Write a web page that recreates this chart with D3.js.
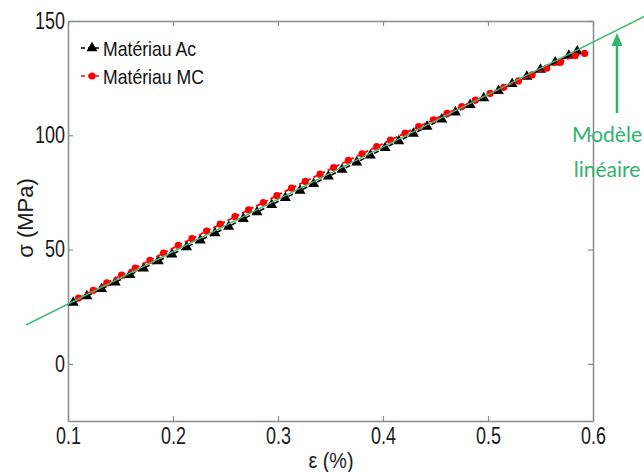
<!DOCTYPE html>
<html>
<head>
<meta charset="utf-8">
<script src="https://cdn.jsdelivr.net/npm/d3@7"></script>
<style>
  html, body { margin: 0; padding: 0; background: #fff; }
  svg { display: block; }
  .narrow { font-family: "Liberation Sans Narrow", "Arial Narrow", "Liberation Sans", Arial, sans-serif; }
</style>
</head>
<body>
<svg id="chart" width="644" height="472"></svg>
<script>
// ---- data ----
const xTicks = [0.1, 0.2, 0.3, 0.4, 0.5, 0.6];
const yTicks = [0, 50, 100, 150];
const seriesNames = ["Matériau Ac", "Matériau MC"];

const acStrain = [0.105, 0.118, 0.132, 0.145, 0.159, 0.172, 0.186, 0.199, 0.213, 0.226,
  0.240, 0.253, 0.267, 0.280, 0.294, 0.307, 0.321, 0.334, 0.348, 0.361,
  0.375, 0.388, 0.402, 0.415, 0.429, 0.442, 0.456, 0.469, 0.483, 0.496,
  0.510, 0.523, 0.537, 0.550, 0.564, 0.577, 0.585];
const acStress = [26.8, 29.6, 32.8, 35.7, 38.9, 41.8, 45.0, 47.9, 51.1, 54.0,
  57.2, 60.1, 63.4, 66.4, 69.6, 72.6, 75.8, 78.8, 82.0, 85.0,
  88.2, 91.2, 94.5, 97.5, 100.7, 103.8, 107.0, 110.0, 113.3, 116.3,
  119.5, 122.5, 125.7, 128.7, 131.9, 134.9, 136.7];

const mcStrain = [0.110, 0.124, 0.137, 0.151, 0.164, 0.178, 0.191, 0.205, 0.218, 0.232,
  0.245, 0.259, 0.272, 0.286, 0.299, 0.313, 0.326, 0.340, 0.353, 0.367,
  0.380, 0.394, 0.407, 0.421, 0.434, 0.448, 0.461, 0.475, 0.488, 0.502,
  0.515, 0.529, 0.542, 0.556, 0.569, 0.583, 0.592];
const mcStress = [28.8, 32.2, 35.4, 38.8, 41.9, 45.3, 48.5, 51.8, 54.8, 58.1,
  61.1, 64.4, 67.4, 70.6, 73.6, 76.9, 79.8, 83.0, 85.9, 89.0,
  91.9, 95.0, 97.9, 101.0, 103.8, 106.8, 109.6, 112.6, 115.4, 118.3,
  121.0, 123.8, 126.4, 129.4, 132.0, 134.8, 135.8];

// linear model (annotation line), endpoints
const modelStrain = [0.06, 0.649];
const modelStress = [17.0, 152.0];

// ---- layout ----
const svg = d3.select("#chart");
const L = 68, R = 593, T = 21, B = 421;
const x = d3.scaleLinear().domain([0.1, 0.6]).range([L, R]);
const y = d3.scaleLinear().domain([-25, 150]).range([B, T]);

const axisColor = "#8c8c8c";
const green = "#3dba78";
const greenText = "#2fb36f";

function styleAxis(g, showLabels) {
  g.select(".domain").attr("stroke", axisColor).attr("stroke-width", 1.5);
  g.selectAll(".tick line").attr("stroke", axisColor).attr("stroke-width", 1.2);
  g.selectAll(".tick text").attr("fill", "#1a1a1a")
    .attr("class", "narrow").attr("data-squeeze", 0.78).style("font-size", "23px")
    .style("display", showLabels ? null : "none");
}

svg.append("g").attr("transform", `translate(0,${B})`)
  .call(d3.axisBottom(x).tickValues(xTicks).tickFormat(d3.format(".1f")).tickSizeInner(-5).tickSizeOuter(0).tickPadding(7))
  .call(g => styleAxis(g, true));
svg.append("g").attr("transform", `translate(0,${T})`)
  .call(d3.axisTop(x).tickValues(xTicks).tickSizeInner(-5).tickSizeOuter(0))
  .call(g => styleAxis(g, false));
svg.append("g").attr("transform", `translate(${L},0)`)
  .call(d3.axisLeft(y).tickValues(yTicks).tickSizeInner(-5).tickSizeOuter(0).tickPadding(3))
  .call(g => styleAxis(g, true));
svg.append("g").attr("transform", `translate(${R},0)`)
  .call(d3.axisRight(y).tickValues(yTicks).tickSizeInner(-5).tickSizeOuter(0))
  .call(g => styleAxis(g, false));

// axis titles
svg.append("text").attr("class", "narrow").attr("data-squeeze", 0.9)
  .attr("x", 331).attr("y", 468)
  .attr("text-anchor", "middle").style("font-size", "22px").attr("fill", "#1a1a1a")
  .text("ε (%)");
svg.append("text")
  .attr("transform", `translate(33,218) rotate(-90)`)
  .attr("text-anchor", "middle")
  .style("font-family", "'Liberation Sans', Arial, sans-serif").style("font-size", "22px").attr("fill", "#1a1a1a")
  .text("σ (MPa)");

// ---- series ----
const acData = acStrain.map((s, i) => ({ x: s, y: acStress[i] }));
const mcData = mcStrain.map((s, i) => ({ x: s, y: mcStress[i] }));
const line = d3.line().x(d => x(d.x)).y(d => y(d.y));
const tri = d3.symbol().type(d3.symbolTriangle).size(52);

svg.append("path").datum(acData).attr("d", line)
  .attr("fill", "none").attr("stroke", "#000").attr("stroke-width", 1.6).attr("stroke-dasharray", "5,3");
svg.append("g").selectAll("path").data(acData).join("path")
  .attr("d", tri).attr("transform", d => `translate(${x(d.x)},${y(d.y)})`).attr("fill", "#000");

svg.append("path").datum(mcData).attr("d", line)
  .attr("fill", "none").attr("stroke", "#ff0000").attr("stroke-width", 1.8).attr("stroke-dasharray", "5,3");
svg.append("g").selectAll("circle").data(mcData).join("circle")
  .attr("cx", d => x(d.x)).attr("cy", d => y(d.y)).attr("r", 3.6).attr("fill", "#ff0000");

// linear model line
const modelData = modelStrain.map((s, i) => ({ x: s, y: modelStress[i] }));
svg.append("path").datum(modelData).attr("d", line)
  .attr("fill", "none").attr("stroke", green).attr("stroke-width", 1.5);

// ---- legend ----
const legendRows = [
  { name: seriesNames[0], color: "#000", marker: "tri", cy: 48 },
  { name: seriesNames[1], color: "#ff0000", marker: "circle", cy: 76 }
];
legendRows.forEach(r => {
  svg.append("line").attr("x1", 81).attr("x2", 102).attr("y1", r.cy).attr("y2", r.cy)
    .attr("stroke", r.color).attr("stroke-width", 1.6).attr("stroke-dasharray", "4,3");
  if (r.marker === "tri") {
    svg.append("path").attr("d", tri).attr("transform", `translate(92,${r.cy})`).attr("fill", r.color);
  } else {
    svg.append("circle").attr("cx", 92).attr("cy", r.cy).attr("r", 3.6).attr("fill", r.color);
  }
  svg.append("text").attr("class", "narrow").attr("data-squeeze", 0.84).attr("x", 103).attr("y", r.cy + 8)
    .style("font-size", "21px").attr("fill", "#111").text(r.name);
});

// ---- annotation ----
svg.append("line").attr("x1", 617).attr("x2", 617).attr("y1", 113).attr("y2", 44)
  .attr("stroke", greenText).attr("stroke-width", 2.5);
svg.append("path").attr("d", "M617,33 L611.5,46 L622.5,46 Z").attr("fill", greenText);
svg.append("text").attr("x", 607).attr("y", 142).attr("text-anchor", "middle")
  .style("font-family", "Lato, 'Open Sans', sans-serif").style("font-size", "21px").attr("fill", greenText)
  .text("Modèle");
svg.append("text").attr("x", 607).attr("y", 177).attr("text-anchor", "middle")
  .style("font-family", "Lato, 'Open Sans', sans-serif").style("font-size", "21px").attr("fill", greenText)
  .text("linéaire");

// condense narrow-style text (no narrow font installed)
svg.selectAll("text.narrow").each(function () {
  const k = +this.getAttribute("data-squeeze") || 0.82;
  const len = this.getComputedTextLength();
  if (len > 0) d3.select(this).attr("textLength", len * k).attr("lengthAdjust", "spacingAndGlyphs");
});
</script>
</body>
</html>
